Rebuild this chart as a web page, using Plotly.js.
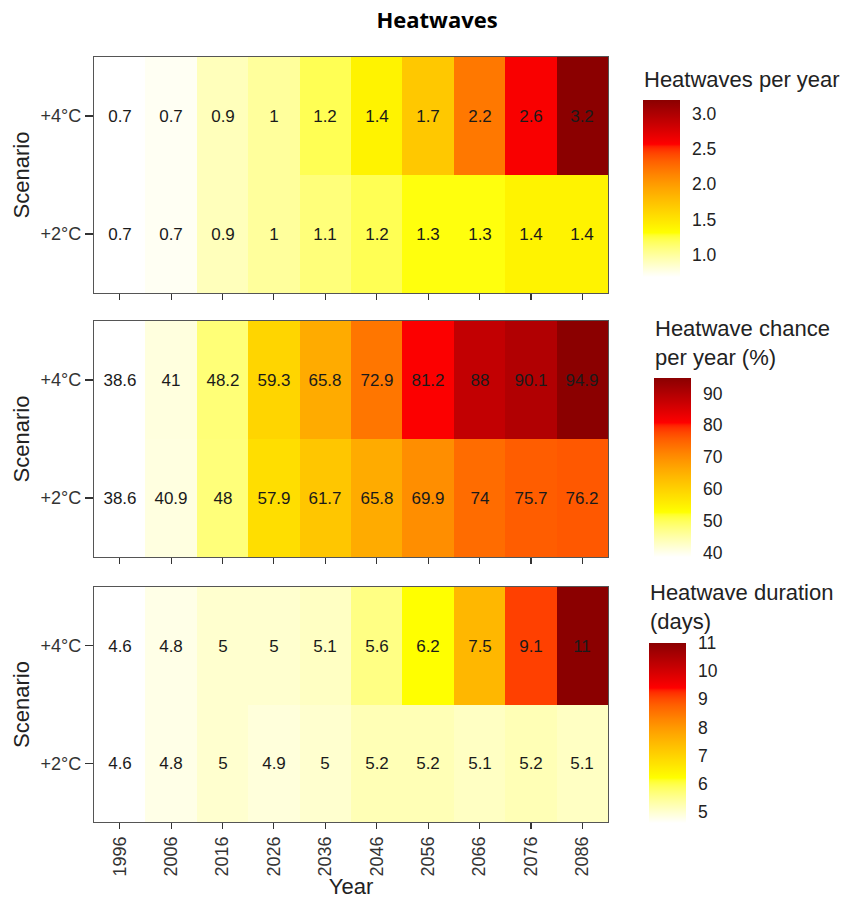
<!DOCTYPE html>
<html>
<head>
<meta charset="utf-8">
<script src="https://cdn.plot.ly/plotly-3.0.1.min.js"></script>
<style>html,body{margin:0;padding:0;background:#fff;}#chart{width:850px;height:899px;}</style>
</head>
<body>
<div id="chart"></div>
<script>
// ---- data ----
const years = ["1996","2006","2016","2026","2036","2046","2056","2066","2076","2086"];
const scenarios = ["+2°C","+4°C"];

const perYear2 = [0.68,0.72,0.9,1,1.1,1.2,1.3,1.3,1.4,1.4];
const perYear4 = [0.68,0.72,0.9,1,1.2,1.4,1.7,2.2,2.6,3.2];

const chance2 = [38.6,40.9,48,57.9,61.7,65.8,69.9,74,75.7,76.2];
const chance4 = [38.6,41,48.2,59.3,65.8,72.9,81.2,88,90.1,94.9];

const duration2 = [4.6,4.8,5,4.9,5,5.2,5.2,5.1,5.2,5.1];
const duration4 = [4.6,4.8,5,5,5.1,5.6,6.2,7.5,9.1,11];

const ticks1 = [1.0,1.5,2.0,2.5,3.0];
const ticks2 = [40,50,60,70,80,90];
const ticks3 = [5,6,7,8,9,10,11];

// ---- colour ramp (interpolated in CIELAB, like ggplot's gradientn) ----
const rampColours = ["#FFFFFF","#FFFF00","#FFA500","#FF0000","#8B0000"];
function hex2rgb(h){return [1,3,5].map(i=>parseInt(h.substr(i,2),16)/255);}
function lin(c){return c<=0.04045?c/12.92:Math.pow((c+0.055)/1.055,2.4);}
function gam(c){return c<=0.0031308?12.92*c:1.055*Math.pow(c,1/2.4)-0.055;}
const WN=[0.95047,1,1.08883];
function rgb2lab(rgb){
  const [r,g,b]=rgb.map(lin);
  const X=(0.4124*r+0.3576*g+0.1805*b)/WN[0], Y=(0.2126*r+0.7152*g+0.0722*b)/WN[1], Z=(0.0193*r+0.1192*g+0.9505*b)/WN[2];
  const f=t=>t>0.008856?Math.cbrt(t):7.787*t+16/116;
  const fx=f(X),fy=f(Y),fz=f(Z);
  return [116*fy-16,500*(fx-fy),200*(fy-fz)];
}
function lab2rgb(lab){
  const fy=(lab[0]+16)/116, fx=fy+lab[1]/500, fz=fy-lab[2]/200;
  const fi=t=>t*t*t>0.008856?t*t*t:(t-16/116)/7.787;
  const X=fi(fx)*WN[0],Y=fi(fy)*WN[1],Z=fi(fz)*WN[2];
  const r=3.2406*X-1.5372*Y-0.4986*Z, g=-0.9689*X+1.8758*Y+0.0415*Z, b=0.0557*X-0.2040*Y+1.0570*Z;
  return [r,g,b].map(c=>Math.round(255*Math.min(1,Math.max(0,gam(c)))));
}
function labScale(cols,n){
  const labs=cols.map(c=>rgb2lab(hex2rgb(c)));
  const seg=labs.length-1, out=[];
  for(let i=0;i<=n;i++){
    const t=i/n, p=Math.min(seg-1,Math.floor(t*seg)), u=t*seg-p;
    const a=labs[p],b=labs[p+1];
    const rgb=lab2rgb([0,1,2].map(k=>a[k]+(b[k]-a[k])*u));
    out.push([t,"rgb("+rgb.join(",")+")"]);
  }
  return out;
}
const colorscale = labScale(rampColours, 80);

const FONT = "Liberation Sans, Arial, sans-serif";
const fmt = v => String(Math.round(v*10)/10);

const H = 765, W = 514, L = 94, T = 57;
const px = x => (x - L) / W;
const py = y => (T + H - y) / H;

function hm(z2, z4, xa, ya, cb, tickvals, ticktext) {
  const z = [z2, z4];
  const all = z2.concat(z4);
  return {
    type: "heatmap", x: years, y: scenarios, z: z,
    text: z.map(r => r.map(fmt)), texttemplate: "%{text}",
    textfont: {family: FONT, size: 17, color: "#1a1a1a"},
    colorscale: colorscale, zmin: Math.min(...all), zmax: Math.max(...all),
    xaxis: xa, yaxis: ya, hoverinfo: "skip",
    colorbar: Object.assign({
      thickness: 37, lenmode: "pixels", xanchor: "left", yanchor: "top",
      xpad: 0, ypad: 0, outlinewidth: 0, ticks: "outside", ticklen: 9,
      tickcolor: "rgba(255,255,255,0)", tickvals: tickvals,
      ticktext: ticktext, tickfont: {family: FONT, size: 17.5, color: "#222"}
    }, cb)
  };
}

const data = [
  hm(perYear2, perYear4, "x", "y", {x: px(643), y: py(100), len: 177}, ticks1, ticks1.map(v => v.toFixed(1))),
  hm(chance2, chance4, "x2", "y2", {x: px(654), y: py(378), len: 179}, ticks2, ticks2.map(String)),
  hm(duration2, duration4, "x3", "y3", {x: px(649), y: py(643), len: 180}, ticks3, ticks3.map(String))
];

function xax(show, anchor) {
  return {
    anchor: anchor, type: "category", showline: true, mirror: true, linecolor: "#555", linewidth: 1.2,
    ticks: "outside", ticklen: 6, tickcolor: "#333", tickwidth: 1.2, showgrid: false, zeroline: false,
    showticklabels: show, tickangle: -90, tickfont: {family: FONT, size: 18, color: "#333"},
    title: show ? {text: "Year", font: {family: FONT, size: 22, color: "#222"}, standoff: 7} : {text: ""}
  };
}
function yax(domain, anchor) {
  return {
    domain: domain, anchor: anchor, type: "category", showline: true, mirror: true, linecolor: "#555",
    linewidth: 1.2, ticks: "outside", ticklen: 8, tickcolor: "#333", tickwidth: 1.2, showgrid: false, zeroline: false,
    tickfont: {family: FONT, size: 18, color: "#333"},
    title: {text: "Scenario", font: {family: FONT, size: 22, color: "#222"}, standoff: 4}
  };
}

const layout = {
  width: 850, height: 899, paper_bgcolor: "#fff", plot_bgcolor: "#fff",
  margin: {l: L, r: 850 - 608, t: T, b: 899 - 822, autoexpand: false},
  font: {family: FONT},
  showlegend: false,
  title: {text: "<b>Heatwaves</b>", x: 437/850, xanchor: "center", y: 1 - 20/899, yanchor: "middle",
          font: {family: "Open Sans, sans-serif", size: 22, color: "#000"}},
  xaxis: xax(false, "y"), yaxis: yax([py(293), 1], "x"),
  xaxis2: xax(false, "y2"), yaxis2: yax([py(557), py(321)], "x2"),
  xaxis3: xax(true, "y3"), yaxis3: yax([0, py(587)], "x3"),
  annotations: [
    {text: "Heatwaves per year", x: px(642), y: py(79), xref: "paper", yref: "paper", xanchor: "left", yanchor: "middle",
     showarrow: false, align: "left", font: {family: FONT, size: 22, color: "#222"}},
    {text: "Heatwave chance<br>per year (%)", x: px(653), y: py(343), xref: "paper", yref: "paper", xanchor: "left", yanchor: "middle",
     showarrow: false, align: "left", font: {family: FONT, size: 22, color: "#222"}},
    {text: "Heatwave duration<br>(days)", x: px(648), y: py(607), xref: "paper", yref: "paper", xanchor: "left", yanchor: "middle",
     showarrow: false, align: "left", font: {family: FONT, size: 22, color: "#222"}}
  ]
};

Plotly.newPlot("chart", data, layout, {staticPlot: true, displayModeBar: false});
</script>
</body>
</html>
